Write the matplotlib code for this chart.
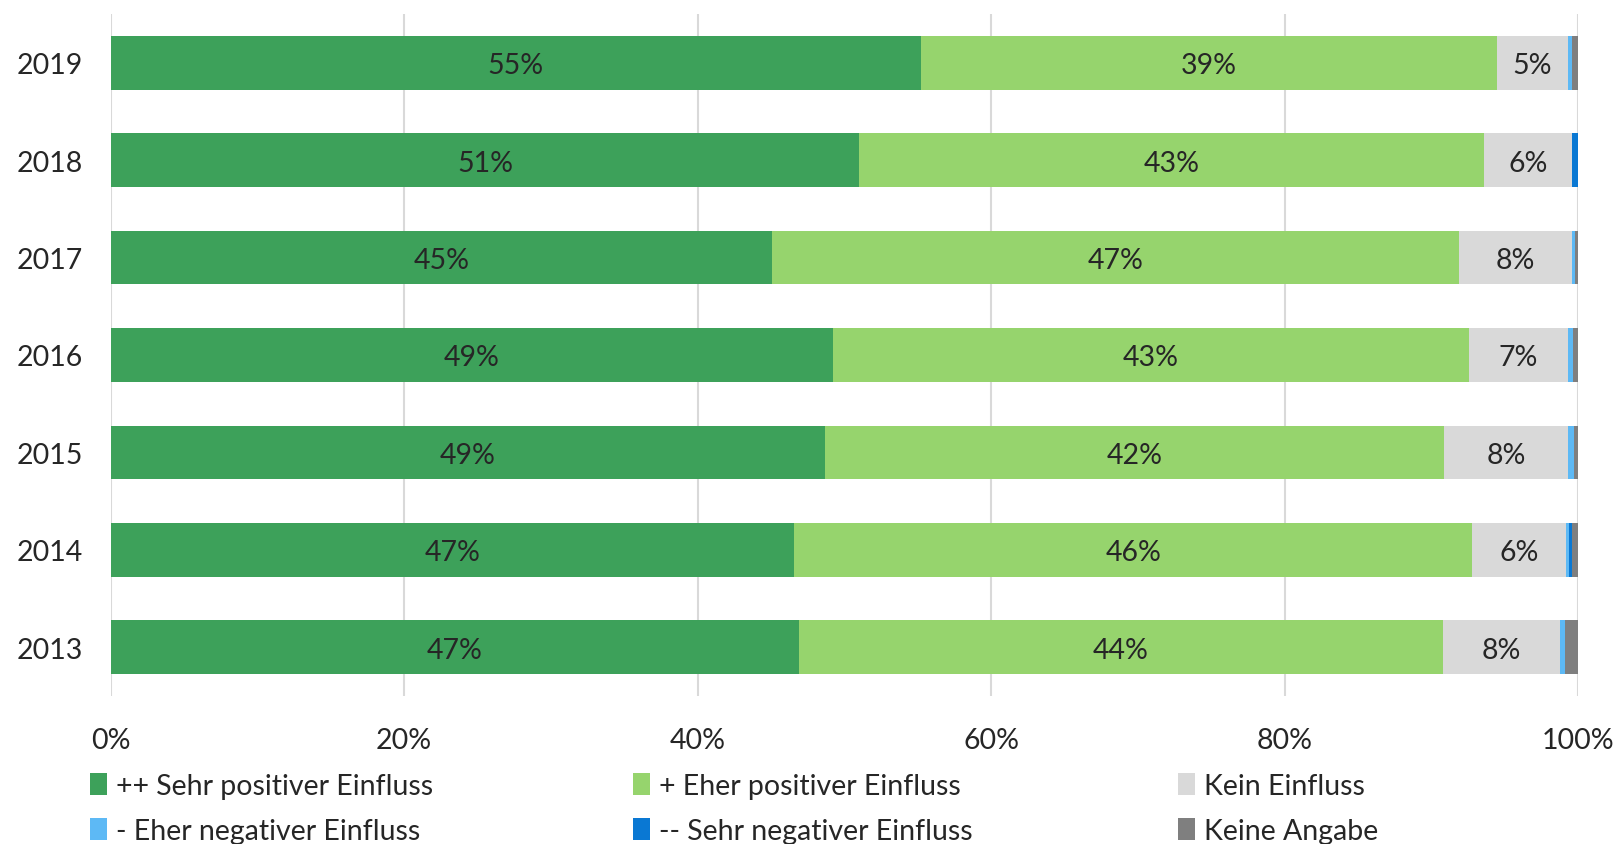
import numpy as np
import matplotlib
matplotlib.use("Agg")
import matplotlib.pyplot as plt

plt.rcParams['font.family'] = ['Lato', 'DejaVu Sans']

# data (in percent), bottom to top
years = ['2013', '2014', '2015', '2016', '2017', '2018', '2019']
sehr_pos = [46.9, 46.6, 48.7, 49.2, 45.1, 51.0, 55.2]
eher_pos = [43.9, 46.2, 42.2, 43.4, 46.8, 42.6, 39.3]
kein = [8.0, 6.4, 8.4, 6.7, 7.7, 6.0, 4.8]
eher_neg = [0.3, 0.2, 0.4, 0.35, 0.2, 0.0, 0.3]
sehr_neg = [0.0, 0.2, 0.0, 0.0, 0.0, 0.4, 0.0]
keine_angabe = [0.9, 0.4, 0.3, 0.35, 0.2, 0.0, 0.4]

series_names = ['++ Sehr positiver Einfluss', '+ Eher positiver Einfluss', 'Kein Einfluss',
                '- Eher negativer Einfluss', '-- Sehr negativer Einfluss', 'Keine Angabe']
colors = ['#3DA15A', '#96D46D', '#D9D9D9', '#5DB9F5', '#0A78D3', '#7F7F7F']
xticks = [0, 20, 40, 60, 80, 100]

series = [sehr_pos, eher_pos, kein, eher_neg, sehr_neg, keine_angabe]
fs = 20.5

fig = plt.figure(figsize=(16.2, 8.45), dpi=100)
ax = fig.add_axes([110.7 / 1620, 1 - 697 / 845, (1578 - 110.7) / 1620, (697 - 15) / 845])

y = np.arange(len(years))
left = np.zeros(len(years))
handles = []
for vals, name, col in zip(series, series_names, colors):
    vals = np.array(vals)
    bars = ax.barh(y, vals, left=left, height=0.55, color=col, label=name, zorder=2)
    handles.append(bars)
    for yi, (l, v) in enumerate(zip(left, vals)):
        if v >= 1:
            ax.text(l + v / 2, yi, f'{round(v)}%', ha='center', va='center_baseline',
                    fontsize=fs, color='#262626', zorder=3)
    left = left + vals

ax.set_xlim(0, 100)
ax.set_ylim(-0.5, 6.5)
ax.set_xticks(xticks)
ax.set_xticklabels([f'{t}%' for t in xticks])
ax.set_yticks(y)
ax.set_yticklabels(years)
ax.tick_params(length=0, labelsize=fs, colors='#262626')
ax.tick_params(axis='x', pad=22)
ax.tick_params(axis='y', pad=20)
ax.grid(axis='x', color='#D9D9D9', linewidth=1.5, zorder=0)
for s in ax.spines.values():
    s.set_visible(False)

# legend: three columns, two rows
col_x = [90, 633, 1178]
for j in range(3):
    fig.legend(handles=[handles[j], handles[j + 3]], labels=[series_names[j], series_names[j + 3]],
               loc='upper left', bbox_to_anchor=(col_x[j] / 1620, 1 - 774 / 845),
               frameon=False, fontsize=fs, handlelength=0.6, handleheight=0.8,
               handletextpad=0.3, labelspacing=0.65, borderaxespad=0, borderpad=0,
               labelcolor='#262626')

fig.savefig('out.png', dpi=100)
